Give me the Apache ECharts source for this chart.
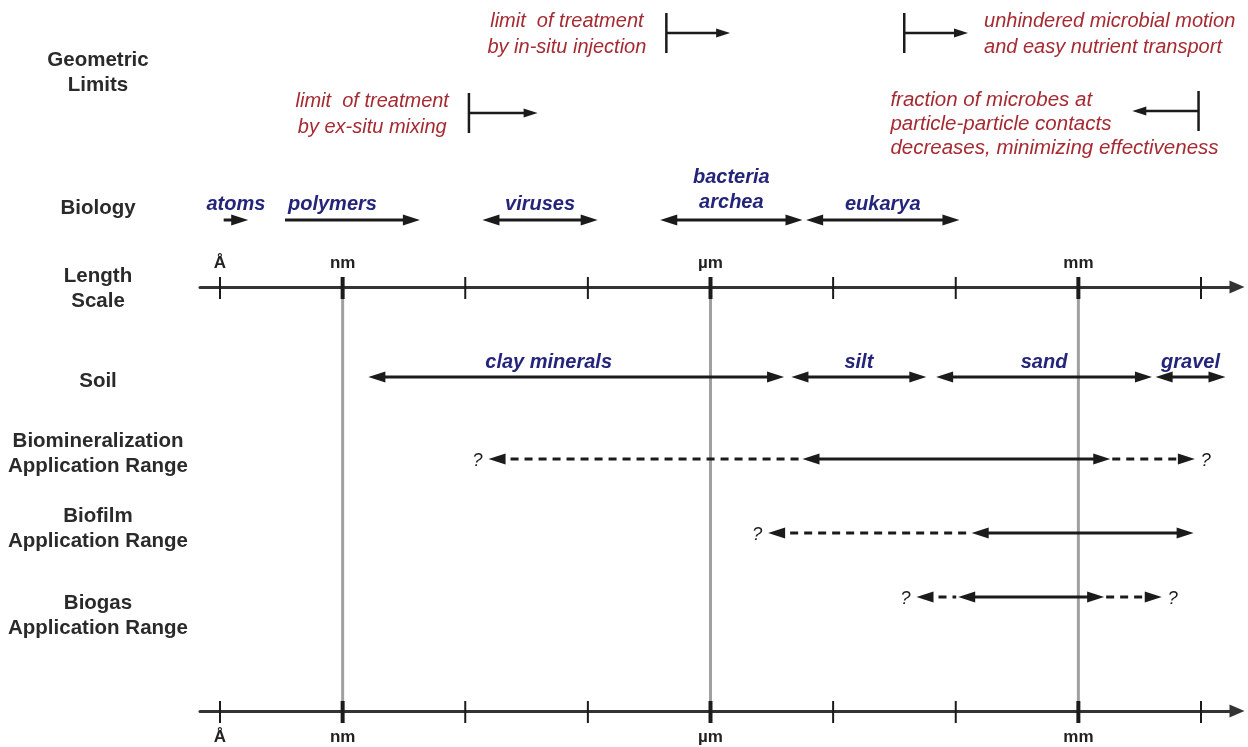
<!DOCTYPE html>
<html><head><meta charset="utf-8">
<script src="https://cdn.jsdelivr.net/npm/echarts@6/dist/echarts.min.js"></script>
<style>html,body{margin:0;padding:0;background:#fff}#c{width:1248px;height:747px}</style>
</head><body><div id="c"></div>
<script>
// ================= DATA (x values are log10 of length in metres) =================
const scaleTicks = [-10, -9, -8, -7, -6, -5, -4, -3, -2];
const majorTicks = [-9, -6, -3];
const unitTicks = [-10, -9, -6, -3];
const unitNames = ['Å', 'nm', 'µm', 'mm'];
const guideLines = [-9, -6, -3];

const rowLabels = ['Geometric\nLimits', 'Biology', 'Length\nScale', 'Soil',
  'Biomineralization\nApplication Range', 'Biofilm\nApplication Range', 'Biogas\nApplication Range'];

// geometric limits: [text, bar position, arrow tip]
const geoLimits = [
  ['limit  of treatment\nby in-situ injection', -6.36, -5.84],
  ['limit  of treatment\nby ex-situ mixing', -7.97, -7.41],
  ['unhindered microbial motion\nand easy nutrient transport', -4.42, -3.90],
  ['fraction of microbes at\nparticle-particle contacts\ndecreases, minimizing effectiveness', -2.02, -2.56]
];

// biology: [label, from, to, arrowheads]
const biology = [
  ['atoms', -9.97, -9.77, 'end'],
  ['polymers', -9.47, -8.37, 'end'],
  ['viruses', -7.86, -6.92, 'both'],
  ['bacteria\narchea', -6.41, -5.25, 'both'],
  ['eukarya', -5.22, -3.97, 'both']
];

// soil: [label, from, to]
const soil = [
  ['clay minerals', -8.79, -5.40],
  ['silt', -5.34, -4.24],
  ['sand', -4.16, -2.40],
  ['gravel', -2.37, -1.80]
];

// application ranges: [name, uncertain lower, lower, upper, uncertain upper]
const applications = [
  ['Biomineralization', -7.81, -5.25, -2.74, -2.05],
  ['Biofilm', -5.53, -3.87, -2.06, null],
  ['Biogas', -4.32, -3.98, -2.79, -2.32]
];

// ================= LAYOUT / STYLE =================
const LAYOUT = {
  labelX: 98,
  rowLabelY: [73, 208, 289, 381, 454, 529, 616],
  geoY: [33, 113, 33, 111],
  geoPlace: ['leftOfBar', 'leftOfBar', 'rightOfTip', 'aboveRight'],
  biologyY: 220,
  soilY: 377,
  appY: [459, 533, 597],
  axisTopY: 287,
  axisBottomY: 711
};
const labelOverrides = { 'polymers': { align: 'left' }, 'clay minerals': { at: -7.32 } };
const FONT = "'Liberation Sans', Arial, Helvetica, sans-serif";
const INK = '#1b1b1b';
const BLUE = '#24247a';
const RED = '#a52a31';
const GREY_LABEL = '#2a2a2a';
const HEAD_L = 17, HEAD_W = 5.5, LW = 3;
const RED_SIZE = 20;

const measureCtx = document.createElement('canvas').getContext('2d');
function maxLineWidth(text, font) {
  measureCtx.font = font;
  return Math.max(...text.split('\n').map(t => measureCtx.measureText(t).width));
}

function head(tip, dir, L, W) {
  return { type: 'polygon', shape: { points: [[tip[0], tip[1]], [tip[0] - dir * L, tip[1] - W], [tip[0] - dir * L, tip[1] + W]] }, style: { fill: INK } };
}
function shaft(x1, x2, y, dashed, w) {
  return { type: 'line', shape: { x1: x1, y1: y, x2: x2, y2: y }, style: { stroke: INK, lineWidth: w || LW, lineDash: dashed ? [8, 6] : null } };
}
function txt(text, x, y, o) {
  return { type: 'text', style: Object.assign({ text: text, x: x, y: y, fontFamily: FONT, fontSize: 20, fontWeight: 'bold', fontStyle: 'italic', fill: BLUE, align: 'center', verticalAlign: 'bottom', lineHeight: 25 }, o || {}) };
}

const chart = echarts.init(document.getElementById('c'), null, { renderer: 'canvas' });

const xMin = -10 - 20 / 122.625, xMax = -10 + 1017 / 122.625;
const axisCommon = {
  type: 'value', min: xMin, max: xMax,
  axisLine: { show: true, lineStyle: { color: '#333', width: 3 }, symbol: ['none', 'triangle'], symbolSize: [13, 15] },
  axisTick: { show: false },
  splitLine: { show: false },
  axisLabel: {
    show: true, customValues: unitTicks,
    formatter: v => unitNames[unitTicks.indexOf(Math.round(v))] || '',
    fontFamily: FONT, fontWeight: 'bold', fontSize: 17, color: '#222'
  }
};

const series = [];
// vertical guide lines
series.push({
  type: 'custom', clip: false, silent: true, z: 1,
  data: guideLines.map(v => [v, LAYOUT.axisTopY]),
  renderItem: (p, api) => {
    const a = api.coord([guideLines[p.dataIndex], LAYOUT.axisTopY]);
    const b = api.coord([guideLines[p.dataIndex], LAYOUT.axisBottomY]);
    return { type: 'line', shape: { x1: a[0], y1: a[1], x2: b[0], y2: b[1] }, style: { stroke: '#a0a0a0', lineWidth: 3 } };
  }
});
// crossing ticks on both axes
series.push({
  type: 'custom', clip: false, silent: true, z: 3,
  data: scaleTicks.map(v => [v, LAYOUT.axisTopY]),
  renderItem: (p, api) => {
    const v = scaleTicks[p.dataIndex];
    const w = majorTicks.includes(v) ? 4 : 2;
    const ch = [LAYOUT.axisTopY, LAYOUT.axisBottomY].map(yv => {
      const c = api.coord([v, yv]);
      return { type: 'line', shape: { x1: c[0], y1: c[1] - 10, x2: c[0], y2: c[1] + 12 }, style: { stroke: INK, lineWidth: w } };
    });
    return { type: 'group', children: ch };
  }
});
// row labels
series.push({
  type: 'custom', clip: false, silent: true,
  data: rowLabels.map((_, i) => [xMin, LAYOUT.rowLabelY[i]]),
  renderItem: (p, api) => {
    const y = api.coord([xMin, LAYOUT.rowLabelY[p.dataIndex]])[1];
    return txt(rowLabels[p.dataIndex], LAYOUT.labelX, y, { fontStyle: 'normal', fontSize: 20.5, fill: GREY_LABEL, verticalAlign: 'middle', lineHeight: 25 });
  }
});
// geometric limits
series.push({
  type: 'custom', clip: false, silent: true,
  data: geoLimits.map((d, i) => [d[1], LAYOUT.geoY[i]]),
  renderItem: (p, api) => {
    const i = p.dataIndex, d = geoLimits[i], yv = LAYOUT.geoY[i];
    const bar = api.coord([d[1], yv]), tip = api.coord([d[2], yv]);
    const dir = tip[0] > bar[0] ? 1 : -1;
    const y = bar[1];
    const place = LAYOUT.geoPlace[i];
    const size = place === 'aboveRight' ? 20.5 : RED_SIZE;
    const font = 'italic ' + size + 'px ' + FONT;
    const mw = maxLineWidth(d[0], font);
    const ch = [
      { type: 'line', shape: { x1: bar[0], y1: y - 20, x2: bar[0], y2: y + 20 }, style: { stroke: INK, lineWidth: 2.5 } },
      shaft(bar[0], tip[0] - dir * 8, y, false, 2.5),
      head(tip, dir, 14, 4.5)
    ];
    const o = { fontStyle: 'italic', fontWeight: 'normal', fontSize: size, fill: RED, verticalAlign: 'middle', lineHeight: 26 };
    if (place === 'leftOfBar') ch.push(txt(d[0], bar[0] - 20 - mw / 2, y + 1, Object.assign(o, { align: 'center' })));
    else if (place === 'rightOfTip') ch.push(txt(d[0], tip[0] + 16, y + 1, Object.assign(o, { align: 'left' })));
    else ch.push(txt(d[0], bar[0] + 20 - mw, y + 13, Object.assign(o, { align: 'left', lineHeight: 24 })));
    return { type: 'group', children: ch };
  }
});
// biology
series.push({
  type: 'custom', clip: false, silent: true,
  data: biology.map(d => [d[1], LAYOUT.biologyY]),
  renderItem: (p, api) => {
    const d = biology[p.dataIndex];
    const a = api.coord([d[1], LAYOUT.biologyY]), b = api.coord([d[2], LAYOUT.biologyY]);
    const y = a[1], ch = [];
    const both = d[3] === 'both';
    ch.push(shaft(both ? a[0] + 8 : a[0], b[0] - 8, y));
    ch.push(head(b, 1, HEAD_L, HEAD_W));
    if (both) ch.push(head(a, -1, HEAD_L, HEAD_W));
    const ov = labelOverrides[d[0]] || {};
    const ly = d[0].indexOf('\n') >= 0 ? y - 5 : y - 3;
    if (ov.align === 'left') ch.push(txt(d[0], a[0] + 3, ly, { align: 'left' }));
    else ch.push(txt(d[0], ov.at != null ? api.coord([ov.at, 0])[0] : (a[0] + b[0]) / 2, ly));
    return { type: 'group', children: ch };
  }
});
// soil
series.push({
  type: 'custom', clip: false, silent: true,
  data: soil.map(d => [d[1], LAYOUT.soilY]),
  renderItem: (p, api) => {
    const d = soil[p.dataIndex];
    const a = api.coord([d[1], LAYOUT.soilY]), b = api.coord([d[2], LAYOUT.soilY]);
    const y = a[1];
    const ov = labelOverrides[d[0]] || {};
    const lx = ov.at != null ? api.coord([ov.at, 0])[0] : (a[0] + b[0]) / 2;
    return { type: 'group', children: [
      shaft(a[0] + 8, b[0] - 8, y),
      head(a, -1, HEAD_L, HEAD_W), head(b, 1, HEAD_L, HEAD_W),
      txt(d[0], lx, y - 2)
    ] };
  }
});
// application ranges
series.push({
  type: 'custom', clip: false, silent: true,
  data: applications.map((d, i) => [d[2], LAYOUT.appY[i]]),
  renderItem: (p, api) => {
    const i = p.dataIndex, d = applications[i], yv = LAYOUT.appY[i];
    const lo = api.coord([d[2], yv]), hi = api.coord([d[3], yv]);
    const y = lo[1];
    const q = { fontStyle: 'italic', fontWeight: 'normal', fontSize: 18, fill: INK, verticalAlign: 'middle' };
    const ch = [shaft(lo[0] + 8, hi[0] - 8, y), head(lo, -1, HEAD_L, HEAD_W), head(hi, 1, HEAD_L, HEAD_W)];
    if (d[1] != null) {
      const t = api.coord([d[1], yv]);
      ch.push(shaft(t[0] + 8, lo[0] - 2, y, true), head(t, -1, HEAD_L, HEAD_W), txt('?', t[0] - 11, y + 2, q));
    }
    if (d[4] != null) {
      const t = api.coord([d[4], yv]);
      ch.push(shaft(hi[0] + 2, t[0] - 8, y, true), head(t, 1, HEAD_L, HEAD_W), txt('?', t[0] + 11, y + 2, q));
    }
    return { type: 'group', children: ch };
  }
});

chart.setOption({
  animation: false,
  backgroundColor: '#ffffff',
  grid: { left: 200, right: 1248 - 1237, top: LAYOUT.axisTopY, bottom: 747 - LAYOUT.axisBottomY },
  xAxis: [
    Object.assign({}, axisCommon, { position: 'top', axisLabel: Object.assign({}, axisCommon.axisLabel, { margin: 15 }) }),
    Object.assign({}, axisCommon, { position: 'bottom', axisLabel: Object.assign({}, axisCommon.axisLabel, { margin: 18 }) })
  ],
  yAxis: { type: 'value', min: LAYOUT.axisTopY, max: LAYOUT.axisBottomY, inverse: true, show: false },
  series: series
});
</script>
</body></html>
